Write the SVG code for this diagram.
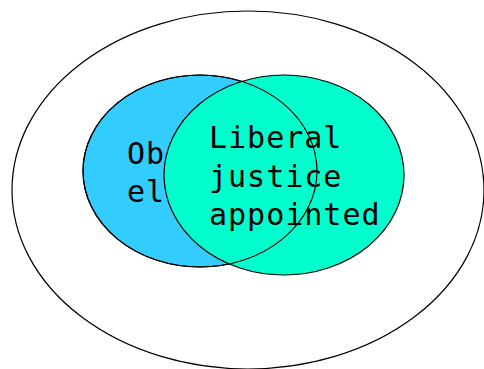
<svg xmlns="http://www.w3.org/2000/svg" width="484" height="369" viewBox="0 0 484 369">
<style>
.o{fill:none;stroke:#000;stroke-width:1.2}
.t{font-family:"DejaVu Sans Mono",monospace;font-size:30px;letter-spacing:1px;fill:#000}
</style>
<rect width="484" height="369" fill="#fff"/>
<g id="universe"><ellipse cx="248" cy="190" rx="236" ry="179" class="o"/></g>
<g id="obama">
<ellipse cx="200" cy="171" rx="117" ry="96" fill="#33CCFF" stroke="#000" stroke-width="1.2"/>
<text class="t" x="127" y="164">Ob</text>
<text class="t" x="127" y="202">el</text>
</g>
<g id="liberal">
<ellipse cx="284" cy="175" rx="120" ry="100" fill="#00FFCC" stroke="#000" stroke-width="1.2"/>
<text class="t" x="209" y="148">Liberal</text>
<text class="t" x="209" y="187">justice</text>
<text class="t" x="209" y="225">appointed</text>
</g>
<g id="obama-outline"><ellipse cx="200" cy="171" rx="117" ry="96" class="o"/></g>
</svg>
